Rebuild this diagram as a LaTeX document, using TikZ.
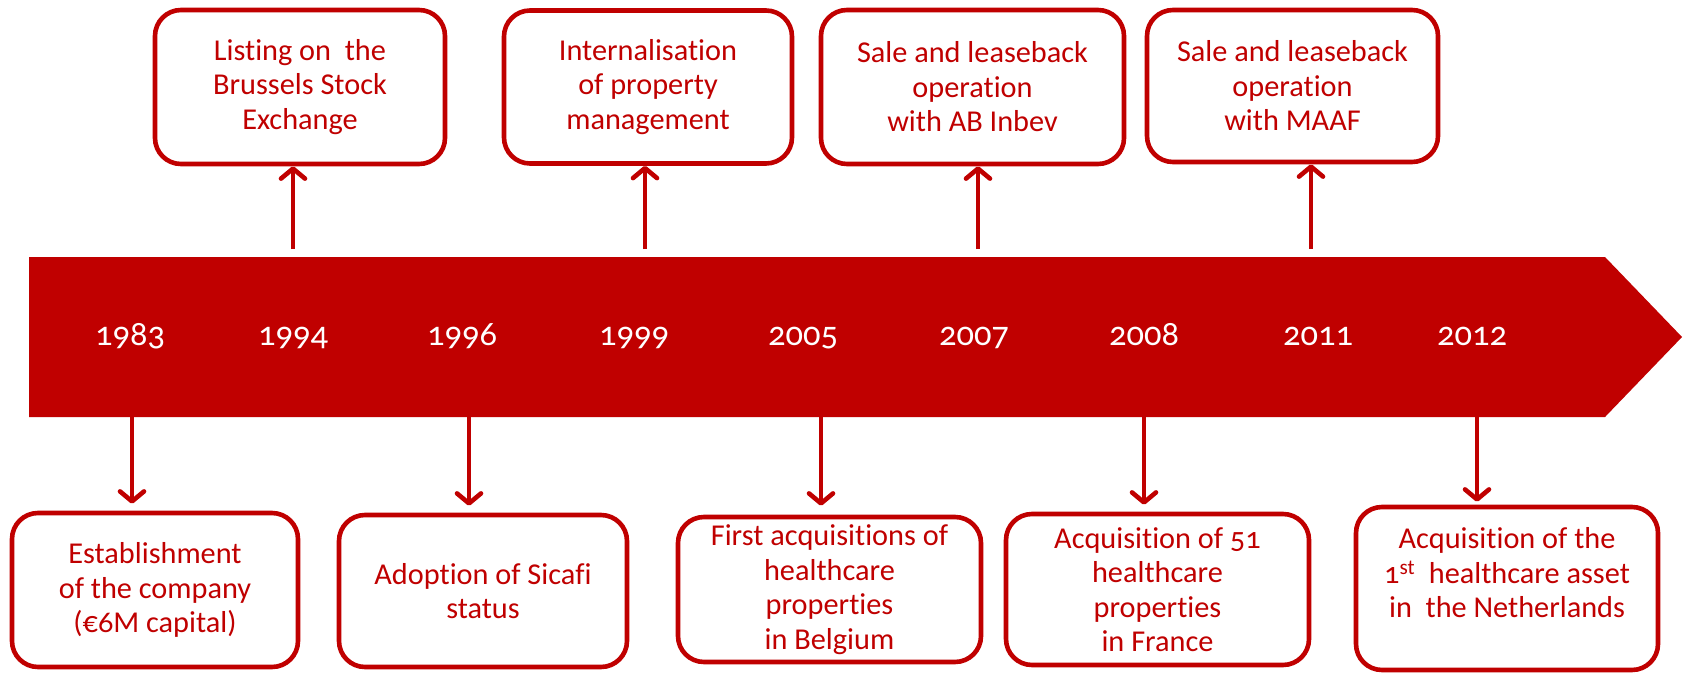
\documentclass[tikz,border=0pt]{standalone}
\usepackage{fontspec}
\setmainfont{Carlito}[Numbers=OldStyle, Ligatures={NoCommon}]
\usetikzlibrary{arrows.meta}
\definecolor{tred}{HTML}{C00000}
\newcommand{\boxfont}{\fontsize{30.3}{34.5}\selectfont}
\newcommand{\yrfont}{\fontsize{34.5}{40}\selectfont}
\tikzset{
  evbox/.style={draw=tred, line width=4.6pt, rounded corners=26pt, fill=white,
    text=tred, align=center, inner sep=0pt, font=\boxfont},
  evtext/.style={text=tred, align=center, inner sep=0pt, font=\boxfont},
  conn/.style={draw=tred, line width=4.6pt,
    -{Straight Barb[length=10pt, width=24pt, line cap=round, line join=round]}},
  yr/.style={text=white, font=\yrfont, inner sep=0pt, anchor=base},
}
\begin{document}
\begin{tikzpicture}[x=1pt, y=-1pt]
\useasboundingbox (0,0) rectangle (1683,672);
% timeline band
\fill[tred] (29,257) -- (1605,257) -- (1682,337) -- (1605,417) -- (29,417) -- cycle;
% years
\node[yr] (y1983) at (130,345) {1983};
\node[yr] (y1994) at (293,345) {1994};
\node[yr] (y1996) at (462,345) {1996};
\node[yr] (y1999) at (634,345) {1999};
\node[yr] (y2005) at (803,345) {2005};
\node[yr] (y2007) at (974,345) {2007};
\node[yr] (y2008) at (1144,345) {2008};
\node[yr] (y2011) at (1318,345) {2011};
\node[yr] (y2012) at (1472,345) {2012};
% top boxes
\node[evbox, minimum width=290, minimum height=154] (list) at (300,87)
  {Listing on\ \ the\\Brussels Stock\\Exchange};
\node[evbox, minimum width=288, minimum height=153] (intern) at (648,87)
  {Internalisation\\of property\\management};
\node[evbox, minimum width=303, minimum height=154] (abi) at (972.5,87)
  {Sale and leaseback\\operation\\with AB Inbev};
\node[evbox, minimum width=291, minimum height=152] (maaf) at (1292.5,86)
  {Sale and leaseback\\operation\\with MAAF};
% bottom boxes
\node[evbox, minimum width=286, minimum height=154] (estab) at (155,590)
  {Establishment\\of the company\\(€6M capital)};
\node[evbox, minimum width=288, minimum height=152] (adopt) at (483,591)
  {Adoption of Sicafi\\status};
\node[evbox, minimum width=303, minimum height=145] (first) at (829.5,589.5)
  {First acquisitions of\\healthcare\\properties\\in Belgium};
\node[evbox, minimum width=303, minimum height=151] (acq) at (1157.5,589.5)
  {Acquisition of 51\\healthcare\\properties\\in France};
\node[evbox, minimum width=302, minimum height=163] (nl) at (1507,588.5) {};
\node[evtext] (nltext) at (1507,573)
  {Acquisition of the\\1\textsuperscript{st}\ \ healthcare asset\\in\ \ the Netherlands};
% connector anchors on the band
\coordinate (t94) at (293,249);
\coordinate (t99) at (645,249);
\coordinate (t07) at (978,249);
\coordinate (t11) at (1311,249);
\coordinate (b83) at (132,417);
\coordinate (b96) at (469,417);
\coordinate (b05) at (821,417);
\coordinate (b08) at (1144,417);
\coordinate (b12) at (1477,417);
% connectors
\draw[conn] (t94) -- (t94 |- list.south);
\draw[conn] (t99) -- (t99 |- intern.south);
\draw[conn] (t07) -- (t07 |- abi.south);
\draw[conn] (t11) -- (t11 |- maaf.south);
\draw[conn, shorten >=7pt] (b83) -- (b83 |- estab.north);
\draw[conn, shorten >=7pt] (b96) -- (b96 |- adopt.north);
\draw[conn, shorten >=9pt] (b05) -- (b05 |- first.north);
\draw[conn, shorten >=7pt] (b08) -- (b08 |- acq.north);
\draw[conn, shorten >=3pt] (b12) -- (b12 |- nl.north);
\end{tikzpicture}
\end{document}
